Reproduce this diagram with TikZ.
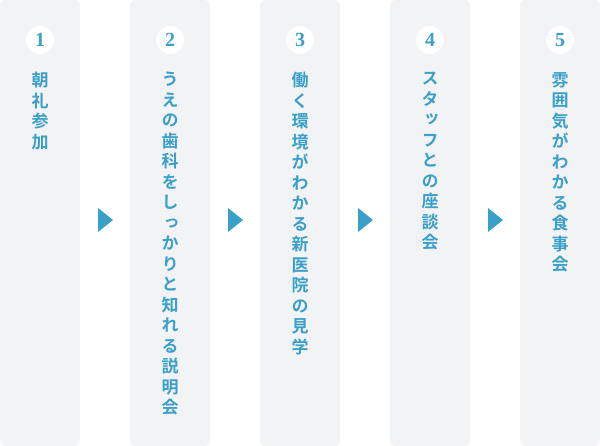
\documentclass[tikz,border=0pt]{standalone}
\usepackage{fontspec}
\newfontfamily\jpfont[RawFeature=+vert, BoldFont={* Bold}]{Noto Sans CJK JP}
\newfontfamily\numfont{Liberation Serif}
\definecolor{stepblue}{HTML}{3A9FC9}
\definecolor{colgray}{HTML}{F2F3F5}
\begin{document}
\begin{tikzpicture}[x=1pt,y=-1pt,
  colbox/.style={fill=colgray, draw=none, rounded corners=5pt},
  numcircle/.style={circle, fill=white, minimum size=28pt, inner sep=0pt,
    text=stepblue, font=\numfont\bfseries\fontsize{20}{20}\selectfont},
  vtext/.style={anchor=north, inner sep=0pt, text=stepblue, align=center,
    font=\jpfont\bfseries\fontsize{17}{20.5}\selectfont},
  arrowtri/.style={fill=stepblue, draw=none}]
\useasboundingbox (0,0) rectangle (600,446);
% columns
\foreach \x [count=\i] in {0,130,260,390,520}{
  \path[colbox] (\x,0) rectangle ++(80,446);
}
% numbers
\node[numcircle] (n1) at (40,40) {1};
\node[numcircle] (n2) at (170,40) {2};
\node[numcircle] (n3) at (300,40) {3};
\node[numcircle] (n4) at (430,40) {4};
\node[numcircle] (n5) at (560,40) {5};
% vertical texts
\node[vtext] (t1) at (40,72) {朝\\礼\\参\\加};
\node[vtext] (t2) at (170,72) {う\\え\\の\\歯\\科\\を\\し\\っ\\か\\り\\と\\知\\れ\\る\\説\\明\\会};
\node[vtext] (t3) at (300,72) {働\\く\\環\\境\\が\\わ\\か\\る\\新\\医\\院\\の\\見\\学};
\node[vtext] (t4) at (430,72) {ス\\タ\\ッ\\フ\\と\\の\\座\\談\\会};
\node[vtext] (t5) at (560,72) {雰\\囲\\気\\が\\わ\\か\\る\\食\\事\\会};
% arrows
\foreach \x in {98,228,358,488}{
  \fill[arrowtri] (\x,208) -- (\x+15,220) -- (\x,232) -- cycle;
}
\end{tikzpicture}
\end{document}
